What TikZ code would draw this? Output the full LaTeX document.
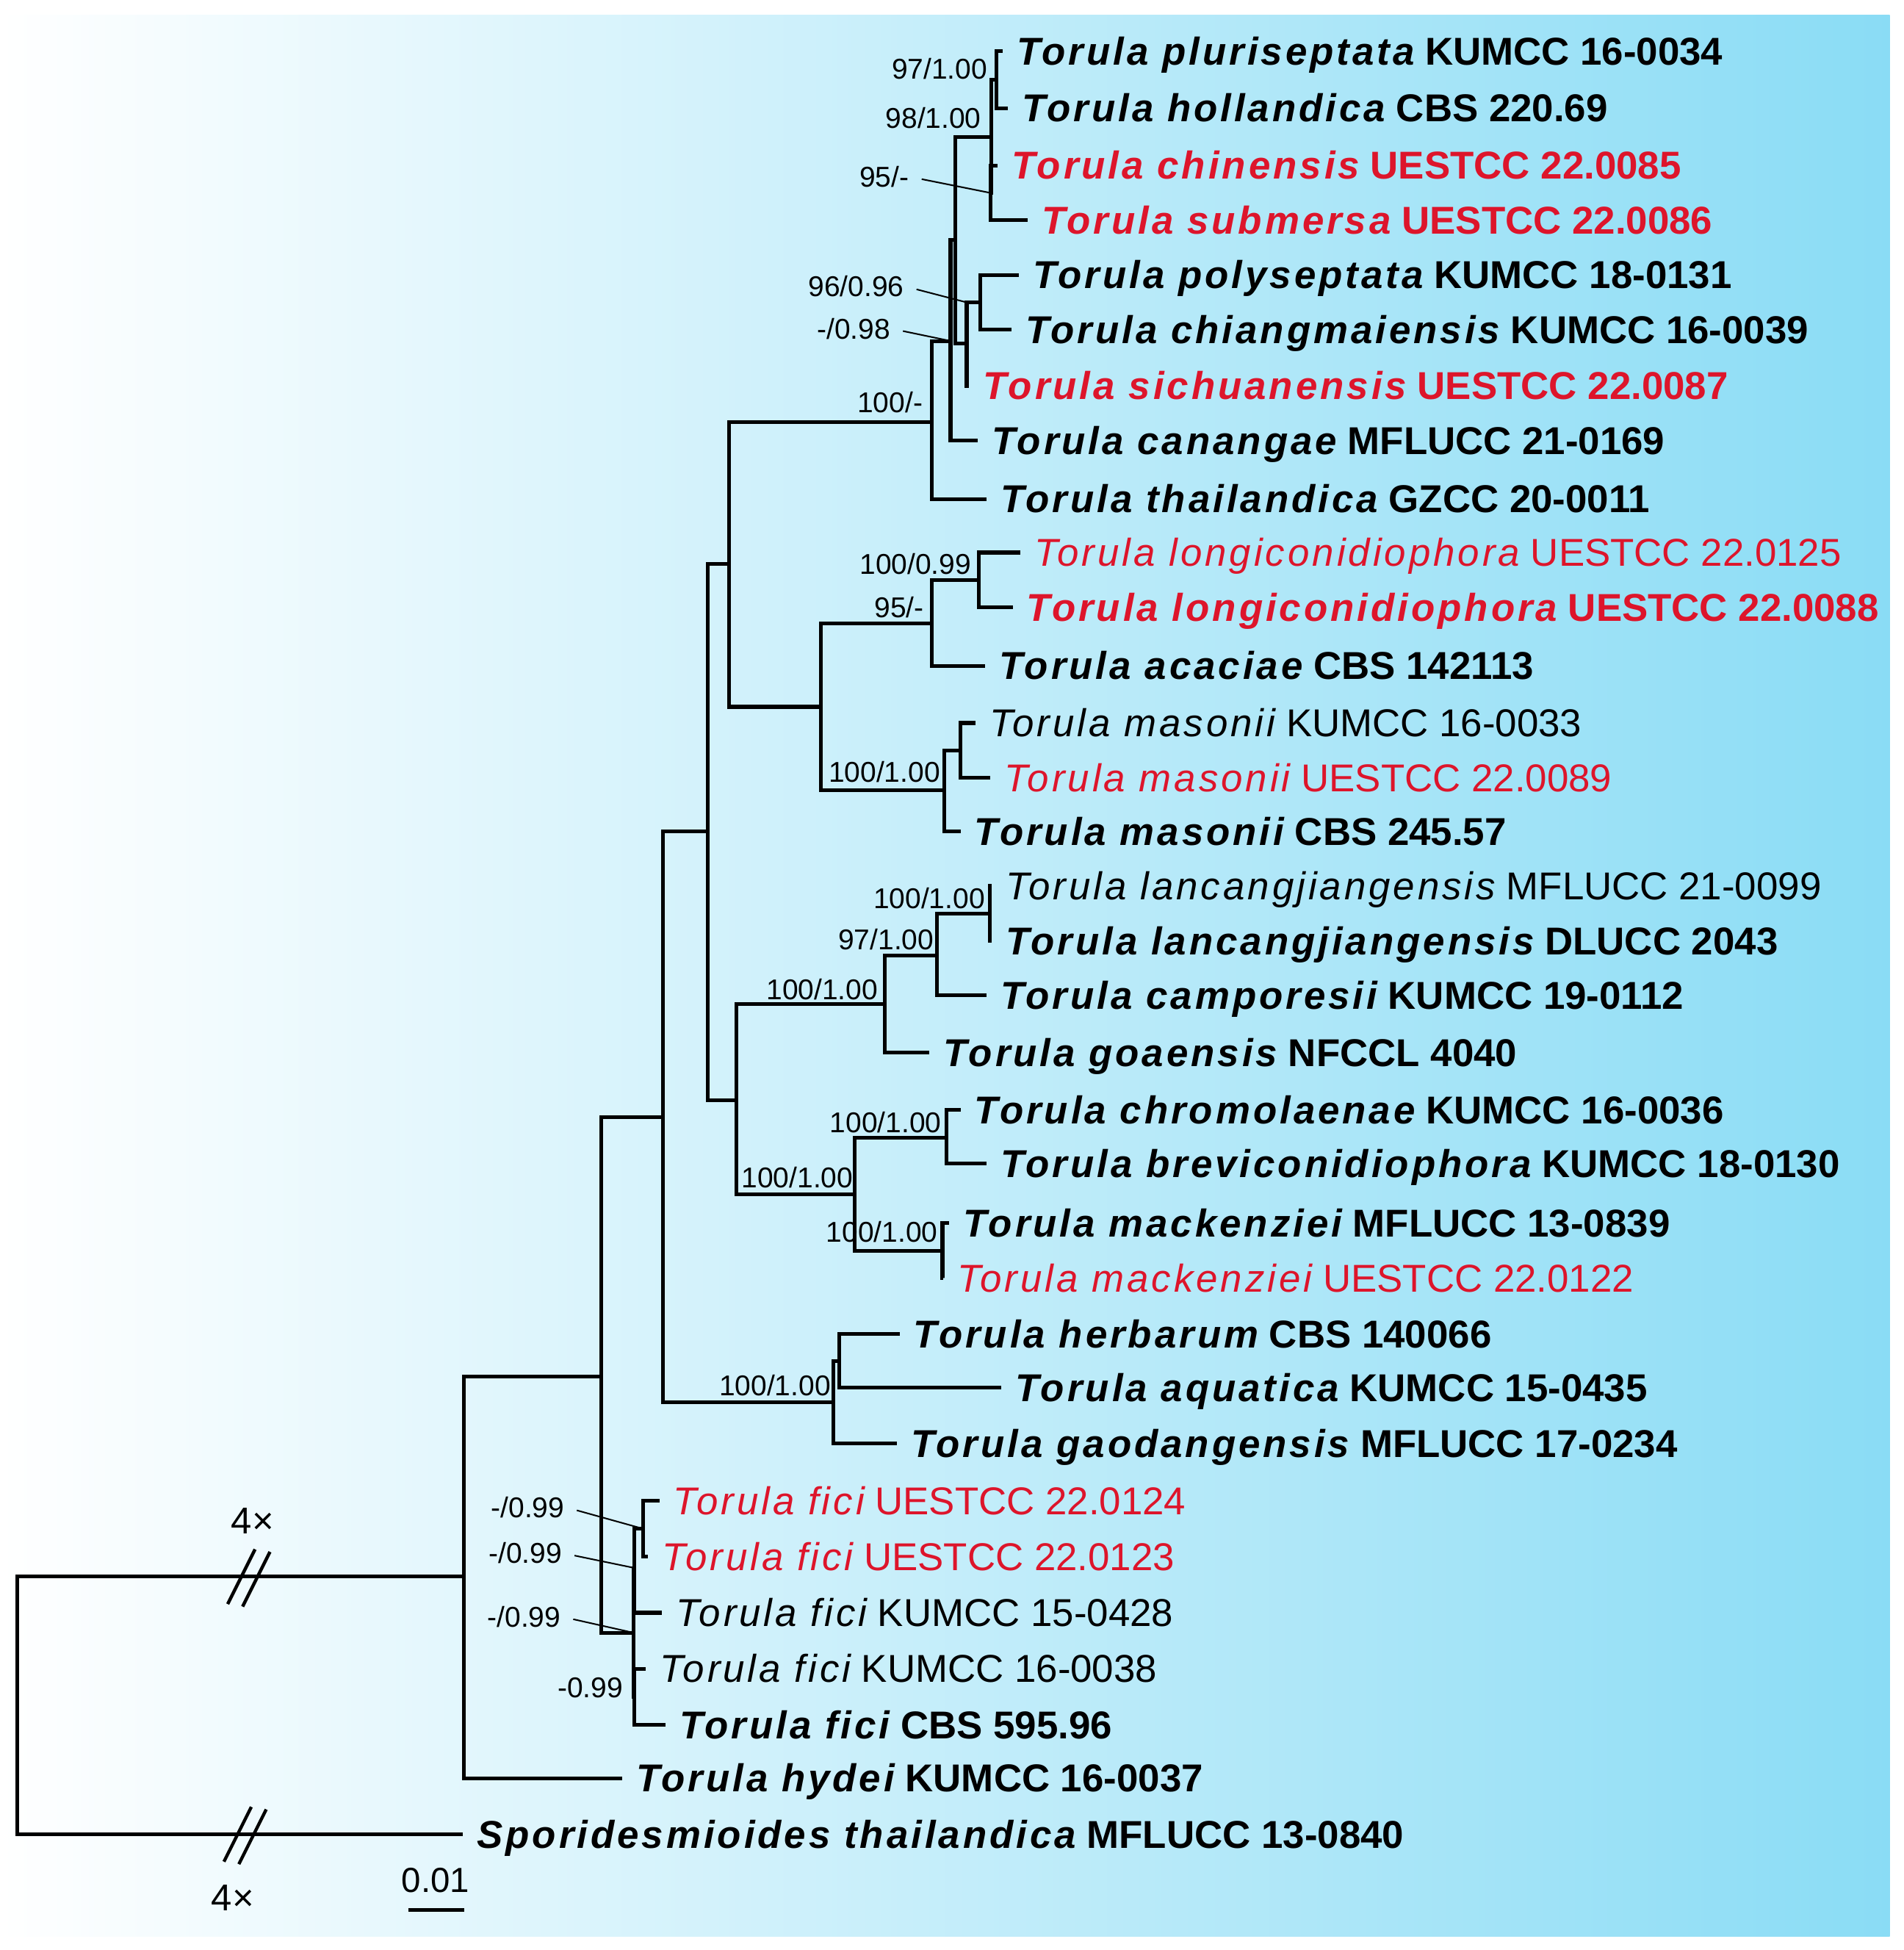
\documentclass[tikz,border=0pt]{standalone}
\usepackage{fontspec}
\setmainfont{Liberation Sans}
\newfontfamily\spacedsans[LetterSpace=7.5]{Liberation Sans}
\usetikzlibrary{positioning}

\definecolor{newred}{RGB}{221,21,43}
\definecolor{skyblue}{RGB}{138,220,245}

\newcommand{\taxon}[2]{{\spacedsans\itshape #1} #2}

\tikzset{
  branch/.style={line width=1.5pt},
  leader/.style={line width=0.6pt, shorten <=5pt},
  breakmark/.style={line width=1.3pt},
  leaf/.style={anchor=west, inner xsep=5.5pt, inner ysep=0pt, text height=11pt, text depth=0pt,
    font=\fontsize{15.6}{18}\selectfont},
  leafbold/.style={leaf, font=\fontsize{15.6}{18}\selectfont\bfseries},
  newleaf/.style={leaf, text=newred},
  newleafbold/.style={leafbold, text=newred},
  support/.style={anchor=east, inner sep=0pt, text height=8.3pt, text depth=0pt,
    font=\fontsize{11.5}{13}\selectfont},
}

\begin{document}
\begin{tikzpicture}[x=0.5pt, y=-0.5pt]
\useasboundingbox (0,0) rectangle (1530,1567);
\shade[left color=white, right color=skyblue] (0,12) rectangle (1519,1556);

% internal nodes
\coordinate (root) at (14,1370);
\coordinate (c1) at (373,1267);
\coordinate (c2) at (483,1106);
\coordinate (c3) at (533,898);
\coordinate (c4) at (569,668);
\coordinate (c5) at (586,453);
\coordinate (c6) at (749,339);
\coordinate (c7) at (764,274);
\coordinate (c8) at (768,193);
\coordinate (c9) at (797,110);
\coordinate (c10) at (801,64);
\coordinate (c11) at (796,155);
\coordinate (c12) at (777,276);
\coordinate (c13) at (788,243);
\coordinate (c14) at (660,568);
\coordinate (c15) at (749,501);
\coordinate (c16) at (787,466);
\coordinate (c17) at (759,635);
\coordinate (c18) at (772,603);
\coordinate (c19) at (592,884);
\coordinate (c20) at (711,807);
\coordinate (c21) at (753,768);
\coordinate (c22) at (795.5,734);
\coordinate (c23) at (687,960);
\coordinate (c24) at (760.5,914);
\coordinate (c25) at (757.5,1005);
\coordinate (c26) at (670,1127);
\coordinate (c27) at (674.5,1093.5);
\coordinate (c28) at (509,1312);
\coordinate (c29) at (510,1260);
\coordinate (c30) at (517,1228.5);
\coordinate (c31) at (510,1363.5);

% taxa
\node[leafbold] (t01) at (806,41) {\taxon{Torula pluriseptata}{KUMCC 16-0034}};
\node[leafbold] (t02) at (810,87) {\taxon{Torula hollandica}{CBS 220.69}};
\node[newleafbold] (t03) at (802,133) {\taxon{Torula chinensis}{UESTCC 22.0085}};
\node[newleafbold] (t04) at (826,177) {\taxon{Torula submersa}{UESTCC 22.0086}};
\node[leafbold] (t05) at (819,221) {\taxon{Torula polyseptata}{KUMCC 18-0131}};
\node[leafbold] (t06) at (813,265) {\taxon{Torula chiangmaiensis}{KUMCC 16-0039}};
\node[newleafbold] (t07) at (779,310) {\taxon{Torula sichuanensis}{UESTCC 22.0087}};
\node[leafbold] (t08) at (786,354) {\taxon{Torula canangae}{MFLUCC 21-0169}};
\node[leafbold] (t09) at (793,401) {\taxon{Torula thailandica}{GZCC 20-0011}};
\node[newleaf] (t10) at (820,444) {\taxon{Torula longiconidiophora}{UESTCC 22.0125}};
\node[newleafbold] (t11) at (814,488) {\taxon{Torula longiconidiophora}{UESTCC 22.0088}};
\node[leafbold] (t12) at (792,535) {\taxon{Torula acaciae}{CBS 142113}};
\node[leaf] (t13) at (784,581) {\taxon{Torula masonii}{KUMCC 16-0033}};
\node[newleaf] (t14) at (796,625) {\taxon{Torula masonii}{UESTCC 22.0089}};
\node[leafbold] (t15) at (772,668) {\taxon{Torula masonii}{CBS 245.57}};
\node[leaf] (t16) at (797,712) {\taxon{Torula lancangjiangensis}{MFLUCC 21-0099}};
\node[leafbold] (t17) at (797,756) {\taxon{Torula lancangjiangensis}{DLUCC 2043}};
\node[leafbold] (t18) at (793,800) {\taxon{Torula camporesii}{KUMCC 19-0112}};
\node[leafbold] (t19) at (747,846) {\taxon{Torula goaensis}{NFCCL 4040}};
\node[leafbold] (t20) at (772,892) {\taxon{Torula chromolaenae}{KUMCC 16-0036}};
\node[leafbold] (t21) at (793,935) {\taxon{Torula breviconidiophora}{KUMCC 18-0130}};
\node[leafbold] (t22) at (763,983) {\taxon{Torula mackenziei}{MFLUCC 13-0839}};
\node[newleaf] (t23) at (758,1027) {\taxon{Torula mackenziei}{UESTCC 22.0122}};
\node[leafbold] (t24) at (723,1072) {\taxon{Torula herbarum}{CBS 140066}};
\node[leafbold] (t25) at (805,1115) {\taxon{Torula aquatica}{KUMCC 15-0435}};
\node[leafbold] (t26) at (721,1160) {\taxon{Torula gaodangensis}{MFLUCC 17-0234}};
\node[newleaf] (t27) at (530,1206) {\taxon{Torula fici}{UESTCC 22.0124}};
\node[newleaf] (t28) at (521,1251) {\taxon{Torula fici}{UESTCC 22.0123}};
\node[leaf] (t29) at (532,1296) {\taxon{Torula fici}{KUMCC 15-0428}};
\node[leaf] (t30) at (519,1341) {\taxon{Torula fici}{KUMCC 16-0038}};
\node[leafbold] (t31) at (535,1386) {\taxon{Torula fici}{CBS 595.96}};
\node[leafbold] (t32) at (500,1429) {\taxon{Torula hydei}{KUMCC 16-0037}};
\node[leafbold] (t33) at (372,1474) {\taxon{Sporidesmioides thailandica}{MFLUCC 13-0840}};

% branches
\foreach \p/\c in {root/c1, root/t33.west, c1/c2, c1/t32.west, c2/c3, c2/c28,
    c3/c4, c3/c26, c4/c5, c4/c19, c5/c6, c5/c14, c6/c7, c6/t09.west,
    c7/c8, c7/t08.west, c8/c9, c8/c12, c9/c10, c9/c11,
    c10/t01.west, c10/t02.west, c11/t03.west, c11/t04.west,
    c12/c13, c12/t07.west, c13/t05.west, c13/t06.west,
    c14/c15, c14/c17, c15/c16, c15/t12.west, c16/t10.west, c16/t11.west,
    c17/c18, c17/t15.west, c18/t13.west, c18/t14.west,
    c19/c20, c19/c23, c20/c21, c20/t19.west, c21/c22, c21/t18.west,
    c22/t16.west, c22/t17.west, c23/c24, c23/c25,
    c24/t20.west, c24/t21.west, c25/t22.west, c25/t23.west,
    c26/c27, c26/t26.west, c27/t24.west, c27/t25.west,
    c28/c29, c28/c31, c29/c30, c29/t29.west, c30/t27.west, c30/t28.west,
    c31/t30.west, c31/t31.west}
  \draw[branch] (\p) |- (\c);

% support values
\node[support] (s97a) at (794,55) {97/1.00};
\node[support] (s98a) at (789,95) {98/1.00};
\node[support] (s95a) at (731,142) {95/-};
\node[support] (s96) at (727,230) {96/0.96};
\node[support] (s098) at (716,264) {-/0.98};
\node[support] (s100a) at (742,323) {100/-};
\node[support] (s100b) at (781,453) {100/0.99};
\node[support] (s95b) at (743,488) {95/-};
\node[support] (s100c) at (756,620) {100/1.00};
\node[support] (s100d) at (792,722) {100/1.00};
\node[support] (s97b) at (751,755) {97/1.00};
\node[support] (s100e) at (706,795) {100/1.00};
\node[support] (s100f) at (757,902) {100/1.00};
\node[support] (s100g) at (686,946) {100/1.00};
\node[support] (s100h) at (754,990) {100/1.00};
\node[support] (s100i) at (668,1113) {100/1.00};
\node[support] (s099a) at (454,1211) {-/0.99};
\node[support] (s099b) at (452,1248) {-/0.99};
\node[support] (s099c) at (451,1299) {-/0.99};
\node[support] (s099d) at (501,1356) {-0.99};

\draw[leader] (s95a.east) -- (c11);
\draw[leader] (s96.east) -- (c12 |- c13);
\draw[leader] (s098.east) -- (c7);
\draw[leader] (s099a.east) -- (c30);
\draw[leader] (s099b.east) -- (c29);
\draw[leader] (s099c.east) -- (c28);

% long branches cut
\coordinate (cutA) at (199,1267);
\coordinate (cutB) at (196,1474);
\foreach \cut in {cutA, cutB} {
  \draw[breakmark] ([shift={(-16,22)}]\cut) -- ++(22,-44);
  \draw[breakmark] ([shift={(-4,24)}]\cut) -- ++(22,-44);
}
\node[font=\fontsize{15}{17}\selectfont] (fourA) at (203,1222) {4×};
\node[font=\fontsize{15}{17}\selectfont] (fourB) at (187,1525) {4×};

% scale bar
\coordinate (sbl) at (328,1535);
\coordinate (sbr) at (373,1535);
\draw[branch] (sbl) -- (sbr);
\node[font=\fontsize{14}{16}\selectfont] (sblabel) at (350,1511) {0.01};
\end{tikzpicture}
\end{document}
